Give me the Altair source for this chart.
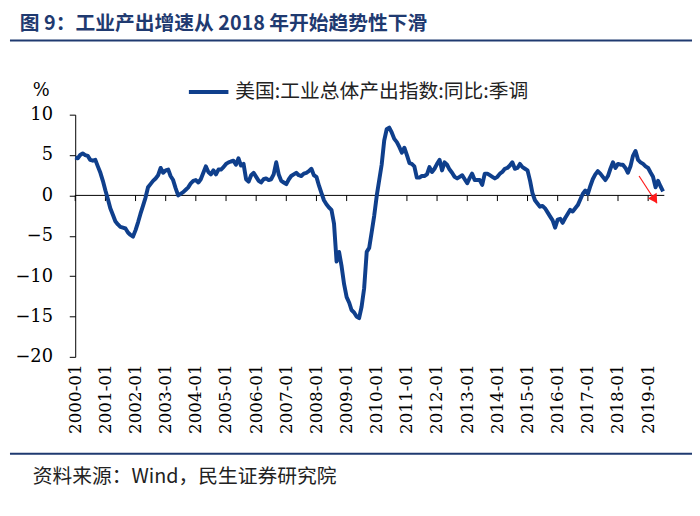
import altair as alt
import pandas as pd

series_name = "美国:工业总体产出指数:同比:季调"
title_text = "图 9：工业产出增速从 2018 年开始趋势性下滑"
source_text = "资料来源：Wind，民生证券研究院"
unit_text = "%"

start_year = 2000
values = [
    4.7, 4.6, 5.0, 5.2, 5.0, 4.9, 4.4, 4.3, 4.4, 3.6, 2.8, 1.8,
    0.6, -0.5, -1.6, -2.4, -3.2, -3.6, -3.9, -4.0, -4.1, -4.6, -4.9, -5.1,
    -4.3, -3.3, -2.3, -1.3, -0.3, 1.0, 1.4, 1.8, 2.1, 2.5, 3.4, 2.8,
    3.1, 3.2, 2.4, 1.9, 0.9, 0.0, 0.2, 0.4, 0.7, 1.0, 1.5, 1.8,
    1.9, 1.6, 2.0, 2.8, 3.6, 2.9, 2.6, 3.1, 2.6, 3.2, 3.2, 3.5,
    3.9, 4.1, 4.2, 4.3, 3.8, 4.6, 3.7, 3.9, 2.0, 1.7, 2.5, 2.8,
    2.3, 1.8, 1.6, 2.0, 2.1, 1.9, 2.0, 2.6, 4.1, 2.6, 1.8, 1.6,
    1.4, 2.0, 2.4, 2.6, 2.8, 2.5, 2.4, 2.7, 2.8, 3.0, 3.3, 2.5,
    2.3, 1.2, 0.3, -0.6, -1.1, -1.5, -1.8, -3.5, -8.2, -7.0, -8.8, -11.0,
    -12.6, -13.3, -14.2, -14.5, -15.0, -15.2, -13.8, -11.5, -7.0, -6.5, -4.5, -2.5,
    0.0, 2.0, 3.8, 6.8, 8.2, 8.4, 7.8, 7.0, 6.6, 6.0, 5.3, 5.9,
    5.0, 4.0, 3.9, 3.6, 2.2, 2.2, 2.4, 2.4, 2.6, 3.5, 2.9, 3.3,
    3.9, 4.4, 3.1, 4.1, 3.8, 3.2, 2.8, 2.3, 2.1, 2.3, 2.5, 2.0,
    1.5, 2.2, 2.7, 1.9, 1.9, 1.9, 1.3, 2.7, 2.7, 2.5, 2.3, 2.1,
    2.3, 2.7, 2.9, 3.3, 3.4, 3.7, 4.1, 3.3, 3.4, 3.9, 3.5, 3.3,
    3.1, 1.8, 0.3, -0.6, -1.0, -1.4, -1.3, -1.6, -2.1, -2.6, -3.1, -4.0,
    -3.0, -2.9, -3.4, -2.8, -2.3, -1.8, -2.0, -1.6, -1.2, -0.5, 0.2, 0.6,
    0.2, 1.2, 2.0, 2.6, 3.0, 2.7, 2.3, 1.9, 2.4, 3.3, 4.1, 3.4,
    3.9, 3.8, 3.8, 3.4, 2.8, 3.6, 4.9, 5.5, 4.4, 4.1, 3.9, 3.6,
    3.4, 2.8, 2.3, 1.0, 1.8, 1.1, 0.5,
]
dates = [f"{start_year + i // 12}/{i % 12 + 1:02d}/01" for i in range(len(values))]

tick_years = list(range(2000, 2020))
tick_dates = [f"{y}/01/01" for y in tick_years]

arrow_dates = ["2018/09/13", "2019/04/16"]
arrow_values = [2.4, -0.97]
arrow_head_date = ["2019/03/22"]
arrow_head_value = [-0.5]

W, H = 596, 245
LINE_COLOR = "#0f3f8c"
NAVY = "#1f3a70"
SERIF = "DejaVu Serif"
CJK = "Noto Sans CJK SC"

df = pd.DataFrame({"date": dates, "value": values, "series": series_name})
ticks_df = pd.DataFrame({"date": tick_dates, "value": [0.0] * len(tick_dates),
                         "value2": [-0.7] * len(tick_dates)})
zero_df = pd.DataFrame({"value": [0.0]})
arrow_df = pd.DataFrame({"date": arrow_dates, "value": arrow_values})
head_df = pd.DataFrame({"date": arrow_head_date, "value": arrow_head_value})

xscale = alt.Scale(domain=["2000/01/01", "2019/07/16"], nice=False)
yscale = alt.Scale(domain=[-20, 10], nice=False, zero=False)

xaxis = alt.Axis(
    values=[alt.DateTime(year=y, month=1, date=1) for y in tick_years],
    format="%Y-%m", labelAngle=270, labelAlign="right", labelBaseline="middle",
    labelPadding=7, domain=False, ticks=False, grid=False, title=None,
    labelOverlap=False,
)
yaxis = alt.Axis(
    values=[-20, -15, -10, -5, 0, 5, 10], labelPadding=17, tickSize=6,
    grid=False, title=unit_text, titleAngle=0, titleX=-35, titleY=-24,
    titleAlign="center", titleBaseline="middle",
)

line = alt.Chart(df).mark_line(strokeWidth=4, strokeJoin="round").encode(
    x=alt.X("date:T", scale=xscale, axis=xaxis),
    y=alt.Y("value:Q", scale=yscale, axis=yaxis),
    color=alt.Color("series:N", scale=alt.Scale(range=[LINE_COLOR]),
                    legend=alt.Legend(orient="none", legendX=113, legendY=-45,
                                      title=None, symbolType="stroke",
                                      symbolSize=1600, symbolStrokeWidth=4,
                                      labelOffset=5, labelLimit=500)),
)

zero = alt.Chart(zero_df).mark_rule(color="black", strokeWidth=1).encode(
    y=alt.Y("value:Q", scale=yscale, axis=yaxis),
    x=alt.value(0), x2=alt.value(W),
)

ticks = alt.Chart(ticks_df).mark_rule(color="black", strokeWidth=1).encode(
    x=alt.X("date:T", scale=xscale, axis=xaxis),
    y=alt.Y("value:Q", scale=yscale, axis=yaxis),
    y2="value2:Q",
)

arrow = alt.Chart(arrow_df).mark_line(color="#ff1a1a", strokeWidth=1.2).encode(
    x=alt.X("date:T", scale=xscale, axis=xaxis),
    y=alt.Y("value:Q", scale=yscale, axis=yaxis),
)
head = alt.Chart(head_df).mark_point(shape="triangle-up", filled=True, color="#ff1a1a",
                                     size=110, angle=147, opacity=1).encode(
    x=alt.X("date:T", scale=xscale, axis=xaxis),
    y=alt.Y("value:Q", scale=yscale, axis=yaxis),
)

def text_layer(txt, x, y, size, font, color, weight="normal"):
    return alt.Chart(pd.DataFrame({"t": [txt]})).mark_text(
        align="left", baseline="middle", font=font, fontSize=size,
        color=color, fontWeight=weight,
    ).encode(text="t:N", x=alt.value(x), y=alt.value(y))

title = text_layer(title_text, -56, -92, 20, CJK, NAVY, "bold")
source = text_layer(source_text, -43, 367, 20, CJK, "#222")

top_rule = alt.Chart(pd.DataFrame({"a": [0]})).mark_rule(color=NAVY, strokeWidth=2).encode(
    x=alt.value(-66), x2=alt.value(624), y=alt.value(-75))
bottom_rule = alt.Chart(pd.DataFrame({"a": [0]})).mark_rule(color=NAVY, strokeWidth=2).encode(
    x=alt.value(-66), x2=alt.value(624), y=alt.value(343))

chart = alt.layer(zero, ticks, line, arrow, head, title, source, top_rule, bottom_rule).properties(
    width=W, height=H,
    autosize=alt.AutoSizeParams(type="none"),
    padding={"left": 68, "top": 105, "right": 28, "bottom": 150},
    background="white",
).configure_view(
    stroke=None
).configure_axis(
    labelFont=SERIF, labelFontSize=18, labelColor="black",
    titleFont=SERIF, titleFontSize=18, titleFontWeight="normal", titleColor="black",
    domainColor="black", tickColor="black", domainWidth=1, tickWidth=1,
).configure_axisX(
    labelFontSize=17
).configure_legend(
    labelFont=CJK, labelFontSize=20, labelColor="#222",
)

chart.save("out.html", embed_options={"renderer": "svg", "actions": False})
